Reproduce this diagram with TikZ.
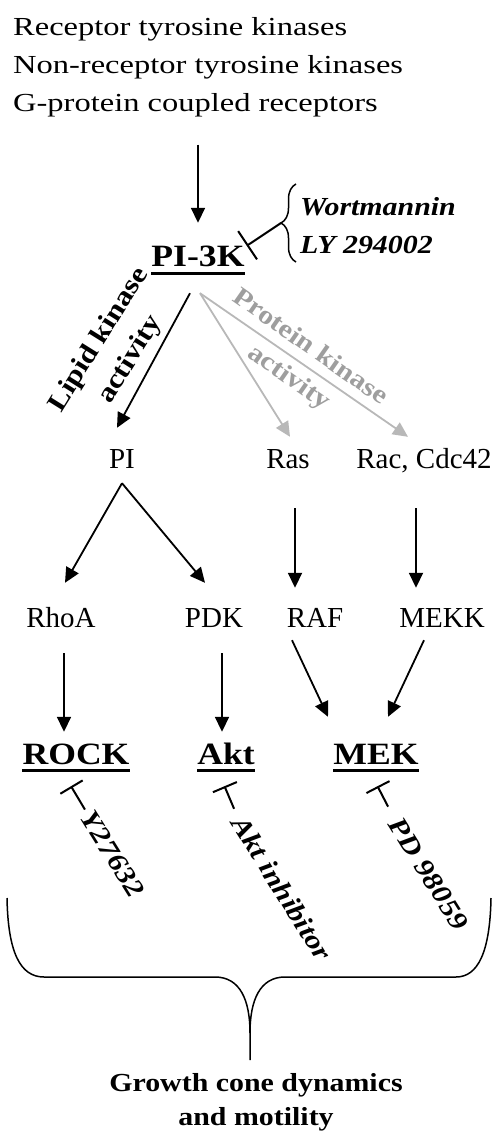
\documentclass[tikz,border=0pt]{standalone}
\usepackage{fontspec}
\setmainfont{Liberation Serif}
\newfontfamily\widefont{Liberation Serif}[FakeStretch=1.25]
\newfontfamily\boldwide{Liberation Serif}[FakeStretch=1.15]
\usetikzlibrary{arrows.meta,decorations.pathreplacing}
\definecolor{pkgray}{gray}{0.62}
\definecolor{pkarrow}{gray}{0.72}
\tikzset{
  srcline/.style={anchor=base west, inner sep=0pt, font=\widefont\fontsize{26}{30}\selectfont},
  mol/.style={anchor=base, inner sep=0pt, text height=20pt, text depth=6pt, font=\fontsize{29}{32}\selectfont},
  kin/.style={anchor=base, inner sep=0pt, text height=21pt, text depth=8pt, font=\boldwide\bfseries\fontsize{31}{34}\selectfont},
  drug/.style={anchor=base west, inner sep=0pt, font=\boldwide\bfseries\itshape\fontsize{26}{30}\selectfont},
  blocker/.style={drug, anchor=west, rotate=-58, font=\boldwide\bfseries\itshape\fontsize{27}{30}\selectfont},
  lipid/.style={inner sep=0pt, align=center, rotate=58, font=\boldwide\bfseries\fontsize{27}{37}\selectfont},
  prot/.style={inner sep=0pt, align=center, rotate=-35, text=pkgray, font=\boldwide\bfseries\fontsize{26}{37}\selectfont},
  outcome/.style={anchor=base, inner sep=0pt, font=\boldwide\bfseries\fontsize{26}{30}\selectfont},
  act/.style={-{Triangle[length=15pt,width=14pt]}, line width=1.8pt},
  pkact/.style={act, pkarrow},
  inh/.style={-{Bar[width=26pt]}, line width=2pt},
  uline/.style={line width=2.2pt},
  brc/.style={line width=1.5pt}
}
\begin{document}
\begin{tikzpicture}[x=1pt, y=1pt]
  \useasboundingbox (0,0) rectangle (498,-1131);

  % Upstream signals
  \node[srcline] (src1) at (13,-36) {Receptor tyrosine kinases};
  \node[srcline] (src2) at (13,-74) {Non-receptor tyrosine kinases};
  \node[srcline] (src3) at (13,-112) {G-protein coupled receptors};

  % PI-3K and its blockers
  \node[kin] (pik) at (198,-267) {PI-3K};
  \node[drug] (wort) at (300,-216) {Wortmannin};
  \node[drug] (ly) at (300,-254) {LY 294002};
  \draw[brc, decorate, decoration={brace, amplitude=15pt}] (296,-262) -- (296,-184);
  \coordinate (wtip) at (281,-223);

  % Second messengers
  \node[mol] (pi) at (122,-468) {PI};
  \node[mol] (ras) at (288,-468) {Ras};
  \node[mol] (rac) at (424,-468) {Rac, Cdc42};
  \node[mol] (rhoa) at (61,-627) {RhoA};
  \node[mol] (pdk) at (214,-627) {PDK};
  \node[mol] (raf) at (315,-627) {RAF};
  \node[mol] (mekk) at (442,-627) {MEKK};

  % Kinases
  \node[kin] (rock) at (76,-764) {ROCK};
  \node[kin] (akt) at (226,-764) {Akt};
  \node[kin] (mek) at (376,-764) {MEK};
  \foreach \k in {pik,rock,akt,mek}
    \draw[uline] ([yshift=-6.5pt]\k.base west) -- ([yshift=-6.5pt]\k.base east);

  % Activity labels
  \node[lipid] (lka) at (115,-350) {Lipid kinase\\activity};
  \node[prot] (pka) at (299,-363) {Protein kinase\\activity};

  % Inhibitor labels
  \node[blocker] (y27) at (87,-813) {Y27632};
  \node[blocker] (akti) at (238,-818) {Akt inhibitor};
  \node[blocker] (pd) at (395,-820) {PD 98059};

  % Activations
  \draw[act, shorten <=27pt, shorten >=23pt] (src3.south -| pik.north) -- (pik.north);
  \draw[act] ([shift={(-8pt,-18pt)}]pik.south) -- ([shift={(-5pt,20pt)}]pi.north);
  \draw[pkact] ([shift={(2pt,-18pt)}]pik.south) -- ([shift={(2pt,11pt)}]ras.north);
  \draw[pkact] ([shift={(2pt,-18pt)}]pik.south) -- ([shift={(-16pt,11pt)}]rac.north);
  \draw[act] ([yshift=-9pt]pi.south) -- ([shift={(4pt,24pt)}]rhoa.north);
  \draw[act] ([yshift=-9pt]pi.south) -- ([shift={(-9pt,24pt)}]pdk.north);
  \draw[act] ([shift={(7pt,-34pt)}]ras.south) -- ([shift={(-20pt,19pt)}]raf.north);
  \draw[act] ([shift={(-8pt,-34pt)}]rac.south) -- ([shift={(-26pt,19pt)}]mekk.north);
  \draw[act] ([shift={(3pt,-20pt)}]rhoa.south) -- ([shift={(-12pt,11pt)}]rock.north);
  \draw[act] ([shift={(8pt,-20pt)}]pdk.south) -- ([shift={(-4pt,11pt)}]akt.north);
  \draw[act] ([shift={(-23pt,-7pt)}]raf.south) -- ([shift={(-48pt,26pt)}]mek.north);
  \draw[act] ([shift={(-18pt,-7pt)}]mekk.south) -- ([shift={(12pt,26pt)}]mek.north);

  % Inhibitions
  \draw[inh, -{Bar[width=34pt]}] (wtip) -- ([xshift=2pt]pik.north east);
  \draw[inh, shorten <=4pt] (y27.west) -- ([shift={(-5pt,-14pt)}]rock.south);
  \draw[inh, shorten <=10pt] (akti.west) -- ([shift={(-1.5pt,-14pt)}]akt.south);
  \draw[inh, shorten <=15pt] (pd.west) -- ([shift={(1.5pt,-14pt)}]mek.south);

  % Outcome brace
  \draw[brc] (7,-898) .. controls (8,-952) and (20,-977) .. (44,-977) -- (215,-977)
    .. controls (240,-977) and (250,-1000) .. (250,-1033) -- (250,-1060);
  \draw[brc] (491,-898) .. controls (490,-952) and (478,-977) .. (456,-977) -- (285,-977)
    .. controls (260,-977) and (250,-1000) .. (250,-1033);
  \node[outcome] (gc1) at (256,-1091) {Growth cone dynamics};
  \node[outcome] (gc2) at (256,-1125) {and motility};
\end{tikzpicture}
\end{document}
